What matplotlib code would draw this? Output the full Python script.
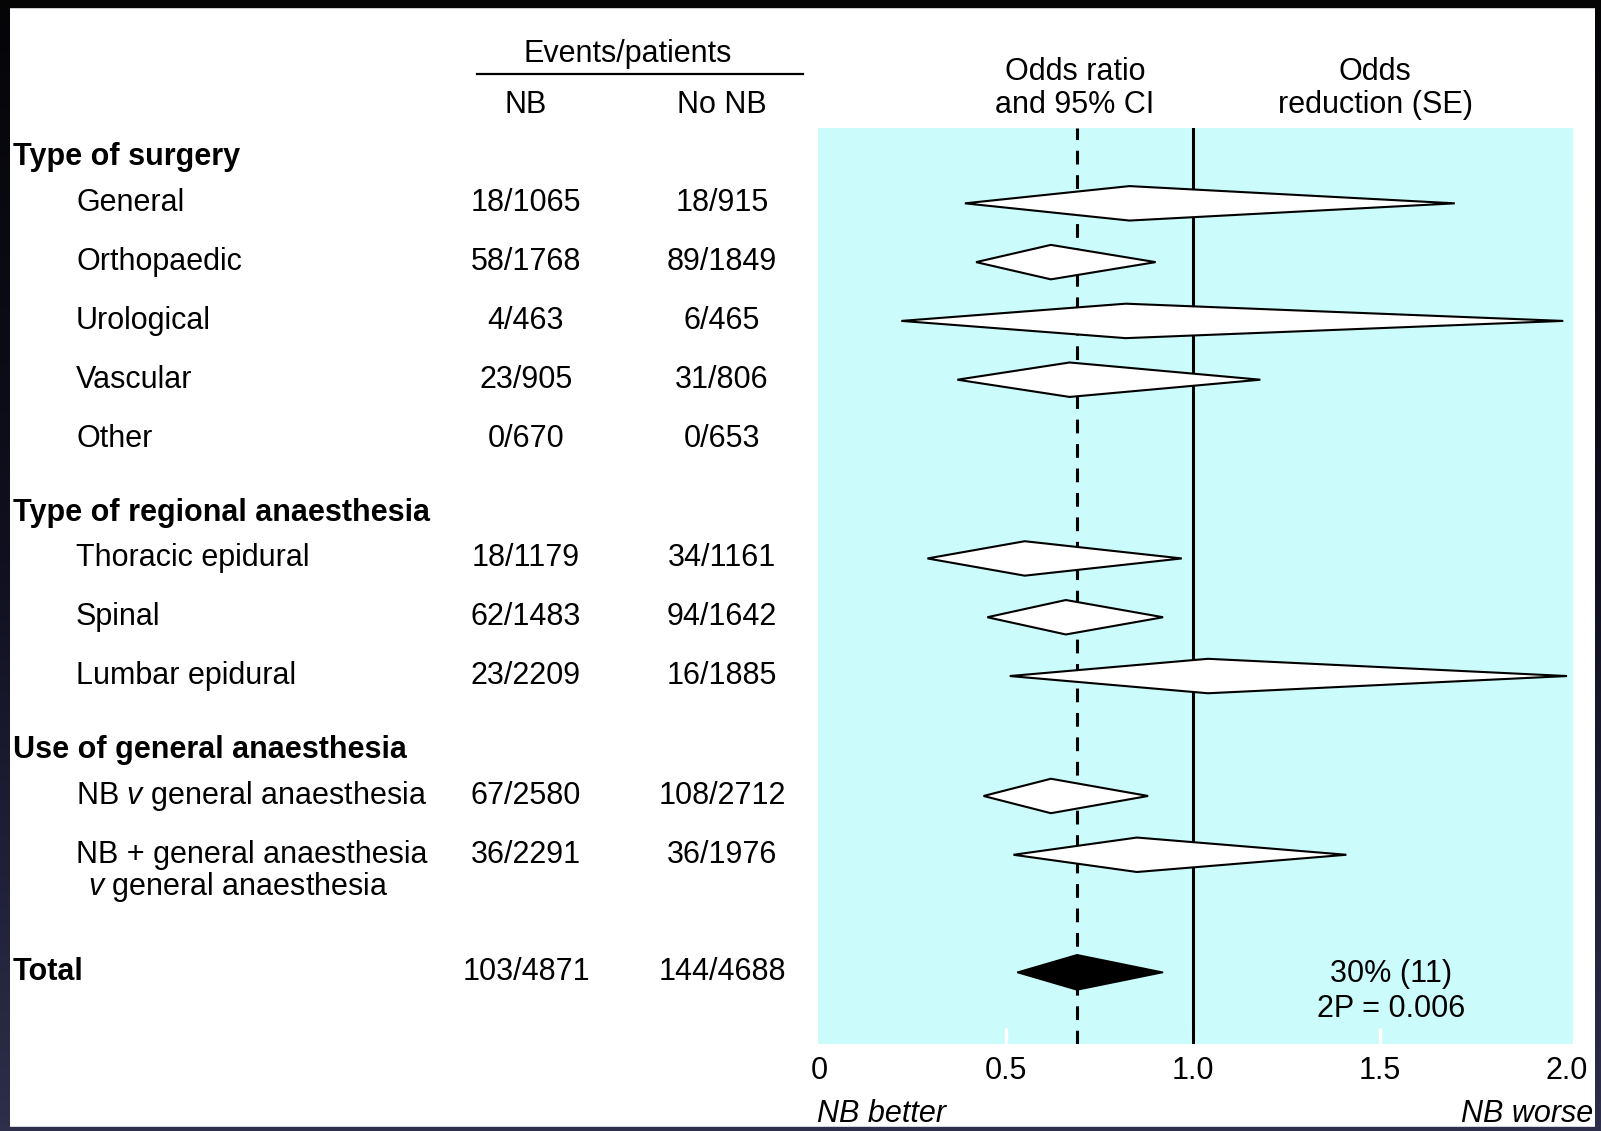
import numpy as np
import matplotlib.pyplot as plt
from matplotlib.patches import Polygon, Rectangle
from matplotlib.transforms import blended_transform_factory

plt.rcParams['font.family'] = 'Liberation Sans'
plt.rcParams['font.size'] = 22
plt.rcParams['mathtext.fontset'] = 'custom'
plt.rcParams['mathtext.rm'] = 'Liberation Sans'
plt.rcParams['mathtext.it'] = 'Liberation Sans:italic'

# ---- data ----
group_names = ['Type of surgery', 'Type of regional anaesthesia', 'Use of general anaesthesia']
group_sizes = [5, 3, 2]

labels = ['General', 'Orthopaedic', 'Urological', 'Vascular', 'Other',
          'Thoracic epidural', 'Spinal', 'Lumbar epidural',
          r'NB $\it{v}$ general anaesthesia', 'NB + general anaesthesia']
label_2nd_line = {9: r'$\it{v}$ general anaesthesia'}
nb_events = ['18/1065', '58/1768', '4/463', '23/905', '0/670',
             '18/1179', '62/1483', '23/2209',
             '67/2580', '36/2291']
no_nb_events = ['18/915', '89/1849', '6/465', '31/806', '0/653',
                '34/1161', '94/1642', '16/1885',
                '108/2712', '36/1976']
odds_ratio = [0.83, 0.62, 0.82, 0.67, np.nan, 0.55, 0.66, 1.04, 0.62, 0.85]
ci_low = [0.39, 0.42, 0.22, 0.37, np.nan, 0.29, 0.45, 0.51, 0.44, 0.52]
ci_high = [1.70, 0.90, 1.99, 1.18, np.nan, 0.97, 0.92, 2.00, 0.88, 1.41]

total_nb = '103/4871'
total_no_nb = '144/4688'
total_or, total_low, total_high = 0.69, 0.53, 0.92
total_reduction = '30% (11)'
total_p = '2P = 0.006'

xticks = [0, 0.5, 1.0, 1.5, 2.0]
xtick_labels = ['0', '0.5', '1.0', '1.5', '2.0']

# ---- layout ----
W, H = 1601, 1131
CYAN = '#ccfbfb'
NAVY = '#2d2f4b'


def fx(px):
    return px / W


def fy(py):
    return 1 - py / H


fig = plt.figure(figsize=(W / 100, H / 100), dpi=100)
fig.patch.set_facecolor('white')

ax = fig.add_axes([fx(818), fy(1043.5), fx(1573 - 818), (1043.5 - 127.6) / H])
ax.set_facecolor(CYAN)
ax.set_xlim(-0.0027, 2.016)
ax.set_ylim(15.27, -0.308)
for s in ax.spines.values():
    s.set_visible(False)
ax.set_yticks([])
ax.set_xticks(xticks, xtick_labels)
ax.tick_params(axis='x', direction='in', length=11.5, width=2.5,
               color='white', pad=9, labelsize=22)
for i in (0, len(xticks) - 1):
    ax.xaxis.get_major_ticks()[i].tick1line.set_visible(False)

# row positions
HEAD_TO_ROW = 0.78
ROW_STEP = 1.0
GROUP_GAP = 1.26
TEXT_SHIFT = 0.0
head_y, row_y = [], []
y = 0.2
for g, n in enumerate(group_sizes):
    if g:
        y = row_y[-1] + GROUP_GAP
    head_y.append(y)
    y += HEAD_TO_ROW
    for _ in range(n):
        row_y.append(y)
        y += ROW_STEP
total_y = row_y[-1] + 2.0

# reference lines
ax.axvline(1.0, color='black', lw=2.2, zorder=2)
ax.axvline(total_or, color='black', lw=2.2, dashes=(4.5, 3.5), zorder=2)

# diamonds
half_h = 0.293
for yy, lo, mid, hi in zip(row_y, ci_low, odds_ratio, ci_high):
    if np.isnan(mid):
        continue
    ax.add_patch(Polygon([(lo, yy), (mid, yy - half_h), (hi, yy), (mid, yy + half_h)],
                         closed=True, facecolor='white', edgecolor='black',
                         lw=1.5, zorder=3))
ax.add_patch(Polygon([(total_low, total_y), (total_or, total_y - 0.298),
                      (total_high, total_y), (total_or, total_y + 0.298)],
                     closed=True, facecolor='black', edgecolor='black',
                     lw=1.2, zorder=3))

ax.text(1.53, total_y + 0.02, total_reduction, ha='center', va='center')
ax.text(1.53, total_y + 0.62, total_p, ha='center', va='center')

# left table, rows share the axes' y scale
tr = blended_transform_factory(fig.transFigure, ax.transData)
for hy, name in zip(head_y, group_names):
    fig.text(fx(13), hy + TEXT_SHIFT, name, transform=tr, ha='left', va='center',
             fontweight='bold')
for i, yy in enumerate(row_y):
    fig.text(fx(76), yy + TEXT_SHIFT, labels[i], transform=tr, ha='left', va='center')
    if i in label_2nd_line:
        fig.text(fx(88), yy + TEXT_SHIFT + 0.55, label_2nd_line[i], transform=tr,
                 ha='left', va='center')
    fig.text(fx(526), yy + TEXT_SHIFT, nb_events[i], transform=tr, ha='center', va='center')
    fig.text(fx(722), yy + TEXT_SHIFT, no_nb_events[i], transform=tr, ha='center', va='center')
fig.text(fx(13), total_y + TEXT_SHIFT, 'Total', transform=tr, ha='left', va='center',
         fontweight='bold')
fig.text(fx(526), total_y + TEXT_SHIFT, total_nb, transform=tr, ha='center', va='center')
fig.text(fx(722), total_y + TEXT_SHIFT, total_no_nb, transform=tr, ha='center', va='center')

# column headers
fig.text(fx(628), fy(54), 'Events/patients', ha='center', va='center')
fig.add_artist(plt.Line2D([fx(477), fx(803)], [fy(73.5), fy(73.5)], color='black', lw=1.6))
fig.text(fx(526), fy(105), 'NB', ha='center', va='center')
fig.text(fx(722), fy(105), 'No NB', ha='center', va='center')
fig.text(fx(1075), fy(72), 'Odds ratio', ha='center', va='center')
fig.text(fx(1075), fy(105), 'and 95% CI', ha='center', va='center')
fig.text(fx(1375), fy(72), 'Odds', ha='center', va='center')
fig.text(fx(1375), fy(105), 'reduction (SE)', ha='center', va='center')

fig.text(fx(817), fy(1122), 'NB better', ha='left', va='baseline', style='italic')
fig.text(fx(1593), fy(1122), 'NB worse', ha='right', va='baseline', style='italic')

# dark frame round the picture
grad = np.linspace(0, 1, 256).reshape(-1, 1)
frame_cmap = plt.matplotlib.colors.LinearSegmentedColormap.from_list(
    'frame', ['#050508', '#101020', NAVY])
for left, width in ((0, 10), (1595, 6)):
    bax = fig.add_axes([fx(left), 0, fx(width), 1])
    bax.imshow(grad, aspect='auto', cmap=frame_cmap, interpolation='bilinear')
    bax.axis('off')
    bax.set_zorder(10)
fig.add_artist(Rectangle((0, fy(7)), 1, 7 / H, transform=fig.transFigure,
                         color='#050505', zorder=11))
fig.add_artist(Rectangle((0, 0), 1, 4 / H, transform=fig.transFigure,
                         color=NAVY, zorder=11))

fig.savefig('out.png', dpi=100)
